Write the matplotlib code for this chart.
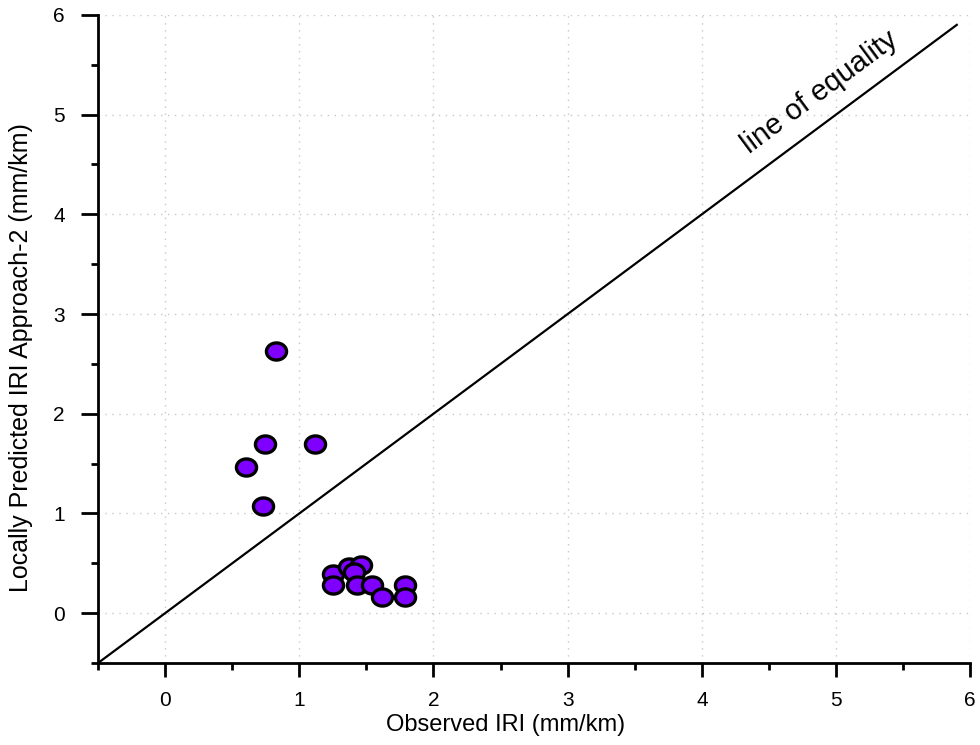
import numpy as np
import matplotlib.pyplot as plt
from matplotlib.path import Path

plt.rcParams['font.family'] = ['Liberation Sans', 'DejaVu Sans']

# observed vs locally predicted IRI (approach 2)
observed = [0.83, 0.745, 1.12, 0.60, 0.73,
            1.25, 1.25, 1.37, 1.46, 1.41, 1.43, 1.54, 1.62, 1.79, 1.79]
predicted = [2.63, 1.70, 1.70, 1.47, 1.07,
             0.39, 0.28, 0.46, 0.48, 0.41, 0.28, 0.28, 0.16, 0.28, 0.16]
equality = [-0.5, 5.9]
x_ticks = [0, 1, 2, 3, 4, 5, 6]
y_ticks = [0, 1, 2, 3, 4, 5, 6]

# slightly flattened circle for the markers
t = np.linspace(0, 2 * np.pi, 60)
ellipse = Path(np.column_stack([np.cos(t), 0.85 * np.sin(t)]), closed=True)

fig = plt.figure(figsize=(9.8, 7.45), dpi=100)
ax = fig.add_axes([0.1, 0.11, 0.89, 0.87])

ax.plot(equality, equality, color='black', lw=1.6, zorder=2)
ax.scatter(observed, predicted, s=210, marker=ellipse, color='#7f00ff',
           edgecolor='black', linewidth=2.4, zorder=3)

ax.set_xlim(-0.5, 6)
ax.set_ylim(-0.5, 6)
ax.set_xticks(x_ticks)
ax.set_yticks(y_ticks)
ax.set_xticks(np.arange(-0.5, 6.01, 0.5), minor=True)
ax.set_yticks(np.arange(-0.5, 6.01, 0.5), minor=True)
ax.tick_params(which='major', length=10, width=2, labelsize=15)
ax.tick_params(axis='x', which='major', pad=10)
ax.tick_params(axis='y', which='major', length=12, pad=12)
ax.tick_params(which='minor', length=5, width=2)

for side in ['top', 'right']:
    ax.spines[side].set_visible(False)
for side in ['left', 'bottom']:
    ax.spines[side].set_linewidth(2)

ax.grid(True, which='major', color='#c8c8c8', linestyle=(0, (1, 4)), lw=1)
ax.set_axisbelow(True)

ax.set_xlabel('Observed IRI (mm/km)', fontsize=17)
ax.set_ylabel('Locally Predicted IRI Approach-2 (mm/km)', fontsize=18)
ax.xaxis.set_label_coords(0.467, -0.079)
ax.yaxis.set_label_coords(-0.074, 0.472)

ax.text(4.88, 5.22, 'line of equality', fontsize=21, rotation=36.5,
        ha='center', va='center')

fig.savefig('out.png', dpi=100)
